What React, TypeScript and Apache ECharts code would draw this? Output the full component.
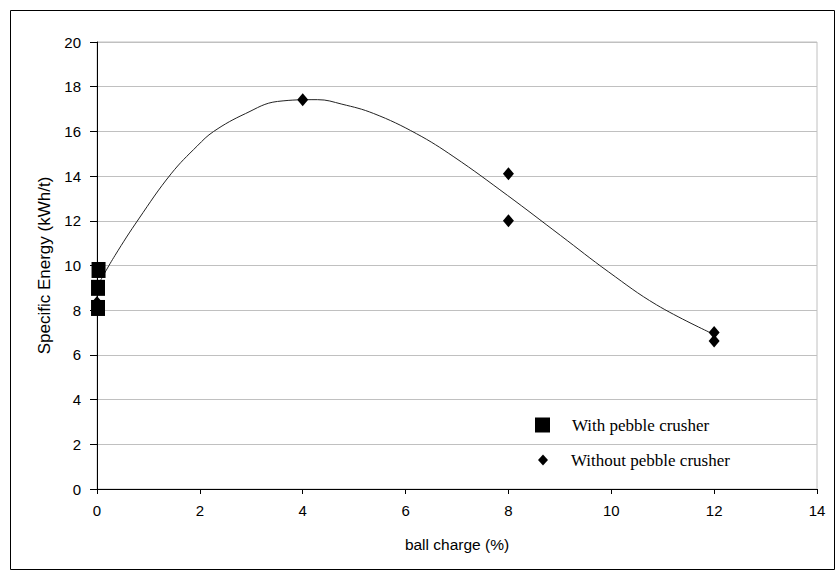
import React, { useEffect, useRef } from "react";
import * as echarts from "echarts";

const withCrusher: [number, number][] = [
  [0.03, 9.8],
  [0.02, 9.0],
  [0.02, 8.1],
];
const withoutCrusher: [number, number][] = [
  [0.0, 8.35],
  [4, 17.42],
  [8, 14.1],
  [8, 12.0],
  [12, 7.0],
  [12, 6.62],
];
const trendCurve: [number, number][] = [
  [0.06, 9.3],
  [0.35, 10.45],
  [0.81, 12.08],
  [1.44, 14.1],
  [1.95, 15.35],
  [2.27, 16.0],
  [2.89, 16.8],
  [3.51, 17.34],
  [4.29, 17.42],
  [4.76, 17.22],
  [5.38, 16.8],
  [6.21, 15.9],
  [6.94, 14.86],
  [7.98, 13.14],
  [9.01, 11.35],
  [9.95, 9.71],
  [10.88, 8.24],
  [11.92, 7.0],
];

export default function App() {
  const ref = useRef<HTMLDivElement>(null);
  useEffect(() => {
    if (!ref.current) return;
    const chart = echarts.init(ref.current, undefined, { renderer: "svg" });
    const sans = "Liberation Sans, Arial, sans-serif";
    const serif = "Liberation Serif, Times New Roman, serif";
    chart.setOption({
      animation: false,
      backgroundColor: "#ffffff",
      graphic: [
        {
          type: "rect",
          shape: { x: 10.5, y: 10.5, width: 824, height: 559 },
          style: { fill: "none", stroke: "#000", lineWidth: 1 },
          silent: true,
          z: -1,
        },
      ],
      grid: {
        left: 97,
        right: 20,
        top: 42,
        bottom: 82,
        show: true,
        borderColor: "#c0c0c0",
        borderWidth: 1,
      },
      legend: [
        {
          data: ["With pebble crusher"],
          icon: "rect",
          left: 535,
          top: 416.5,
          padding: 0,
          itemWidth: 15,
          itemHeight: 15,
          itemStyle: { color: "#000", opacity: 1 },
          textStyle: { fontFamily: serif, fontSize: 17, color: "#000", padding: [0, 0, 0, 17] },
        },
        {
          data: ["Without pebble crusher"],
          icon: "diamond",
          left: 538,
          top: 451.5,
          padding: 0,
          itemWidth: 10,
          itemHeight: 11,
          itemStyle: { color: "#000", opacity: 1 },
          textStyle: { fontFamily: serif, fontSize: 17, color: "#000", padding: [0, 0, 0, 18] },
        },
      ],
      xAxis: {
        type: "value",
        min: 0,
        max: 14,
        interval: 2,
        name: "ball charge (%)",
        nameLocation: "middle",
        nameGap: 47,
        nameTextStyle: { fontFamily: sans, fontSize: 15.5, color: "#000" },
        axisLine: { lineStyle: { color: "#000", width: 1 } },
        axisTick: { show: true, length: 5, lineStyle: { color: "#000" } },
        axisLabel: { fontFamily: sans, fontSize: 15, color: "#000", margin: 14 },
        splitLine: { show: false },
      },
      yAxis: {
        type: "value",
        min: 0,
        max: 20,
        interval: 2,
        name: "Specific Energy (kWh/t)",
        nameLocation: "middle",
        nameGap: 44,
        nameTextStyle: { fontFamily: sans, fontSize: 17, color: "#000" },
        axisLine: { show: true, lineStyle: { color: "#000", width: 1 } },
        axisTick: { show: true, length: 7, lineStyle: { color: "#000" } },
        axisLabel: { fontFamily: sans, fontSize: 15, color: "#000", margin: 16 },
        splitLine: { show: true, lineStyle: { color: "#c0c0c0", width: 1 } },
      },
      series: [
        {
          type: "line",
          data: trendCurve,
          smooth: 0.4,
          showSymbol: false,
          symbol: "none",
          lineStyle: { color: "#222", width: 1 },
          silent: true,
          z: 1,
        },
        {
          name: "Without pebble crusher",
          type: "scatter",
          data: withoutCrusher,
          symbol: "diamond",
          symbolSize: [11, 13],
          itemStyle: { color: "#000", opacity: 1 },
          z: 2,
        },
        {
          name: "With pebble crusher",
          type: "scatter",
          data: withCrusher,
          symbol: "rect",
          symbolSize: [14, 16],
          itemStyle: { color: "#000", opacity: 1 },
          z: 3,
        },
      ],
    });
    return () => chart.dispose();
  }, []);
  return (
    <div
      ref={ref}
      style={{ position: "fixed", left: 0, top: 0, width: 837, height: 571 }}
    />
  );
}
